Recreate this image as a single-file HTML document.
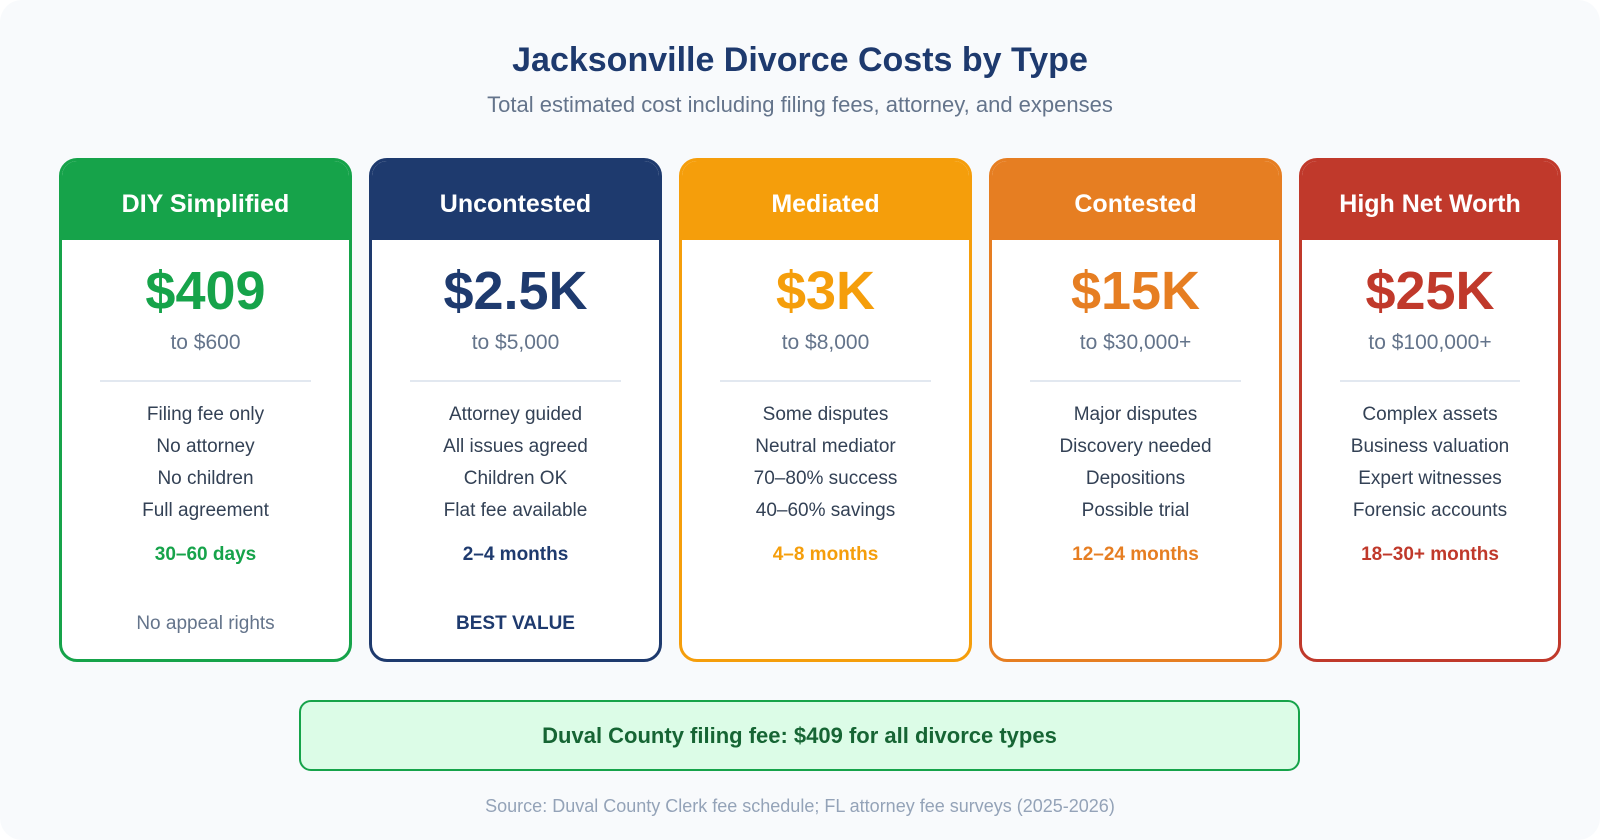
<!DOCTYPE html>
<html><head><meta charset="utf-8"><style>
body{margin:0;width:1600px;height:840px;background:#fff;font-family:"Liberation Sans","DejaVu Sans",sans-serif;overflow:hidden}
#wrap{position:absolute;left:0;top:0;width:1600px;height:840px;background:#f8fafc;border-radius:22px}
.t{position:absolute;left:0;width:1600px;text-align:center}
.card{position:absolute;top:158px;height:504px;box-sizing:border-box;border:3px solid;border-radius:18px;background:#fff;overflow:hidden}
.hd{height:79px;line-height:87px;text-align:center;color:#fff;font-weight:bold;font-size:25px}
.c{position:absolute;left:0;width:100%;text-align:center}
.price{top:95px;font-size:54px;font-weight:bold;line-height:70px}
.to{top:170px;font-size:21px;color:#64748b}
.div{position:absolute;top:219px;left:38px;right:38px;height:2px;background:#e2e8f0}
.f{font-size:19px;color:#334155;line-height:32px;top:238px}
.tl{top:383px;font-size:19px;font-weight:bold}
.ft{top:452px;font-size:19px}
</style></head><body>
<div id="wrap">
<div class="t" style="top:41px;font-size:34px;font-weight:bold;color:#1e3a6e">Jacksonville Divorce Costs by Type</div>
<div class="t" style="top:92px;font-size:22px;color:#64748b">Total estimated cost including filing fees, attorney, and expenses</div>
<div id="cards"></div>
<div style="position:absolute;left:299px;top:700px;width:1001px;height:71px;box-sizing:border-box;border:2px solid #16a34a;border-radius:12px;background:#dcfce7;text-align:center;line-height:67px;font-size:22px;font-weight:bold;color:#166534">Duval County filing fee: $409 for all divorce types</div>
<div class="t" style="top:796px;font-size:18px;color:#94a3b8">Source: Duval County Clerk fee schedule; FL attorney fee surveys (2025-2026)</div>
</div>
<script>
const types=["DIY Simplified","Uncontested","Mediated","Contested","High Net Worth"];
const prices=["$409","$2.5K","$3K","$15K","$25K"];
const ranges=["to $600","to $5,000","to $8,000","to $30,000+","to $100,000+"];
const features=[["Filing fee only","No attorney","No children","Full agreement"],["Attorney guided","All issues agreed","Children OK","Flat fee available"],["Some disputes","Neutral mediator","70–80% success","40–60% savings"],["Major disputes","Discovery needed","Depositions","Possible trial"],["Complex assets","Business valuation","Expert witnesses","Forensic accounts"]];
const timelines=["30–60 days","2–4 months","4–8 months","12–24 months","18–30+ months"];
const footers=["No appeal rights","BEST VALUE","","",""];
const colors=["#16a34a","#1e3a6e","#f59e0b","#e67e22","#c0392b"];
const host=document.getElementById('cards');
types.forEach((t,i)=>{
 const c=document.createElement('div');c.className='card';
 
 
 c.style.left=(59+i*310)+'px';c.style.width=(i==4?262:293)+'px';c.style.borderColor=colors[i];
 const ft=footers[i];
 c.innerHTML=`<div class="hd" style="background:${colors[i]}">${t}</div>
<div class="c price" style="color:${colors[i]}">${prices[i]}</div>
<div class="c to">${ranges[i]}</div><div class="div"></div>
<div class="c f">${features[i].join('<br>')}</div>
<div class="c tl" style="color:${colors[i]}">${timelines[i]}</div>
<div class="c ft" style="${i==1?'font-weight:bold;color:#1e3a6e':'color:#64748b'}">${ft}</div>`;
 host.appendChild(c);
});
</script>
</body></html>
